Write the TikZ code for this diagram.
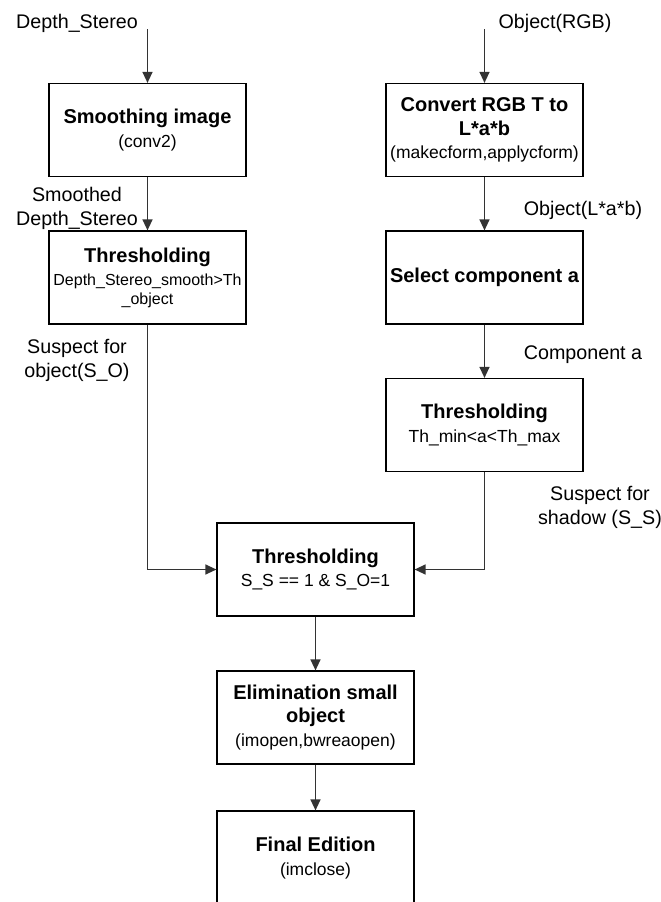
\documentclass[tikz,border=0pt]{standalone}
\usepackage{fontspec}
\setmainfont{Liberation Sans}
\usetikzlibrary{arrows.meta}
\newcommand{\ttl}[1]{{\bfseries #1}}
\newcommand{\sub}[1]{{\fontsize{17.5}{23}\selectfont #1}}
\begin{document}
\begin{tikzpicture}[x=1pt,y=-1pt,
  box/.style={draw=black,line width=1.2pt,minimum width=197pt,minimum height=93pt,inner sep=0pt,align=center,font=\fontsize{20}{23.5}\selectfont},
  lbl/.style={align=center,inner sep=0pt,font=\fontsize{19.7}{24}\selectfont},
  conn/.style={draw=black!80,line width=1.3pt,-{Triangle[length=11pt,width=10pt]}}]
\useasboundingbox (0,0) rectangle (661,902);
\clip (0,0) rectangle (661,902);
% boxes
\node[box] (b1) at (147.5,130) {\ttl{Smoothing image}\\\sub{(conv2)}};
\node[box] (b2) at (147.5,277.5) {\ttl{Thresholding}\\{\fontsize{16}{19}\selectfont Depth\_Stereo\_smooth>Th}\\[-5pt]{\fontsize{16}{19}\selectfont \_object}};
\node[box] (r1) at (484.5,130) {\ttl{Convert RGB T to}\\\ttl{L*a*b}\\\sub{(makecform,applycform)}};
\node[box] (r2) at (484.5,277.5) {\ttl{Select component a}};
\node[box] (r3) at (484.5,425) {\ttl{Thresholding}\\\sub{Th\_min<a<Th\_max}};
\node[box] (c) at (315.5,569.5) {\ttl{Thresholding}\\\sub{S\_S == 1 \& S\_O=1}};
\node[box] (e) at (315.5,717.5) {\ttl{Elimination small}\\\ttl{object}\\\sub{(imopen,bwreaopen)}};
\node[box,minimum height=94pt] (f) at (315.5,858) {\ttl{Final Edition}\\\sub{(imclose)}};
% labels
\node[lbl] (l1) at (77,23) {Depth\_Stereo};
\node[lbl] (l2) at (555,23) {Object(RGB)};
\node[lbl] (l3) at (77,208) {Smoothed\\Depth\_Stereo};
\node[lbl] (l4) at (583,210) {Object(L*a*b)};
\node[lbl] (l5) at (77,360.5) {Suspect for\\object(S\_O)};
\node[lbl] (l6) at (583,355) {Component a};
\node[lbl] (l7) at (600,507) {Suspect for\\shadow (S\_S)};
% connector coordinates
\coordinate (s1) at (147.5,29);
\coordinate (s2) at (484.5,29);
\coordinate (k1) at (147.5,569.5);
\coordinate (k2) at (484.5,569.5);
% connectors
\draw[conn] (s1) -- (b1.north);
\draw[conn] (b1.south) -- (b2.north);
\draw[conn] (s2) -- (r1.north);
\draw[conn] (r1.south) -- (r2.north);
\draw[conn] (r2.south) -- (r3.north);
\draw[conn] (b2.south) -- (k1) -- (c.west);
\draw[conn] (r3.south) -- (k2) -- (c.east);
\draw[conn] (c.south) -- (e.north);
\draw[conn] (e.south) -- (f.north);
\end{tikzpicture}
\end{document}
